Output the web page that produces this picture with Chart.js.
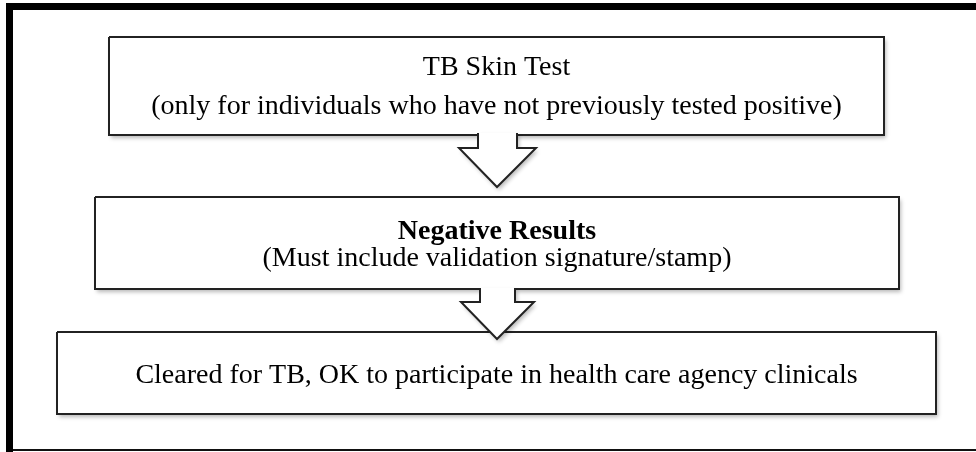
<!DOCTYPE html>
<html lang="en">
<head>
<meta charset="UTF-8">
<title>TB Skin Test Flow</title>
<script src="https://cdn.jsdelivr.net/npm/chart.js"></script>
<style>
    body { margin: 0; padding: 0; background: #fff; }
    #flow { display: block; }
</style>
</head>
<body>
<canvas id="flow" width="976" height="452"></canvas>
<script>
// steps of the flow, in page units (x 0..976, y 0..452 from top)
const stepLabels = [
    ['TB Skin Test', '(only for individuals who have not previously tested positive)'],
    ['Negative Results', '(Must include validation signature/stamp)'],
    ['Cleared for TB, OK to participate in health care agency clinicals']
];
const stepBold = [[false, false], [true, false], [false]];
const stepBaselines = [[75, 114], [239, 266], [383]];
// box edges: left, top, right, bottom
const stepBoxes = [
    [109, 37, 884, 135],
    [95, 197, 899, 289],
    [57, 332, 936, 414]
];
// arrows between steps: stemLeft, stemRight, stemTop, shoulder, wingLeft, wingRight, tipX, tipY
const arrows = [
    [478, 517, 133, 148, 459, 536, 497, 187],
    [480, 515, 288, 302, 461, 534, 497, 339]
];

function boxPoints(b) {
    return [
        { x: b[0], y: b[1] }, { x: b[2], y: b[1] },
        { x: b[2], y: b[3] }, { x: b[0], y: b[3] },
        { x: b[0], y: b[1] }
    ];
}

function arrowPoints(a) {
    return [
        { x: a[0], y: a[2] }, { x: a[0], y: a[3] },
        { x: a[4], y: a[3] }, { x: a[6], y: a[7] },
        { x: a[5], y: a[3] }, { x: a[1], y: a[3] },
        { x: a[1], y: a[2] }
    ];
}

const datasets = [];

// outer frame (thick left and top, thin bottom)
datasets.push({ data: [{ x: 9.5, y: 3 }, { x: 9.5, y: 452 }], borderColor: '#000', borderWidth: 7, order: 5 });
datasets.push({ data: [{ x: 6, y: 6.5 }, { x: 976, y: 6.5 }], borderColor: '#000', borderWidth: 7, order: 5 });
datasets.push({ data: [{ x: 6, y: 450 }, { x: 976, y: 450 }], borderColor: '#111', borderWidth: 2, order: 5 });

stepBoxes.forEach(b => {
    datasets.push({ data: boxPoints(b), borderColor: '#222', borderWidth: 2, shape: true, order: 3 });
});
arrows.forEach(a => {
    datasets.push({ data: arrowPoints(a), borderColor: '#222', borderWidth: 2, shape: true, order: 1 });
});

// white fill with a soft drop shadow under the shapes
const shapeFill = {
    id: 'shapeFill',
    beforeDatasetDraw(chart, args) {
        const ds = chart.data.datasets[args.index];
        if (!ds.shape) return;
        const pts = args.meta.data;
        const ctx = chart.ctx;
        ctx.save();
        ctx.beginPath();
        ctx.moveTo(pts[0].x, pts[0].y);
        for (let i = 1; i < pts.length; i++) ctx.lineTo(pts[i].x, pts[i].y);
        ctx.closePath();
        ctx.shadowColor = 'rgba(0, 0, 0, 0.28)';
        ctx.shadowBlur = 4;
        ctx.shadowOffsetX = 2;
        ctx.shadowOffsetY = 3;
        ctx.fillStyle = '#fff';
        ctx.fill();
        ctx.restore();
    }
};

const stepText = {
    id: 'stepText',
    afterDatasetsDraw(chart) {
        const ctx = chart.ctx;
        const xs = chart.scales.x, ys = chart.scales.y;
        ctx.save();
        ctx.fillStyle = '#000';
        ctx.textAlign = 'center';
        ctx.textBaseline = 'alphabetic';
        stepLabels.forEach((lines, i) => {
            const b = stepBoxes[i];
            const cx = xs.getPixelForValue((b[0] + b[2]) / 2);
            lines.forEach((t, j) => {
                ctx.font = (stepBold[i][j] ? 'bold ' : '') + '28px "Liberation Serif", "Times New Roman", serif';
                ctx.fillText(t, cx, ys.getPixelForValue(stepBaselines[i][j]));
            });
        });
        ctx.restore();
    }
};

new Chart(document.getElementById('flow'), {
    type: 'line',
    data: { datasets: datasets },
    options: {
        responsive: false,
        animation: false,
        devicePixelRatio: 1,
        layout: { padding: 0 },
        parsing: true,
        elements: {
            point: { radius: 0, hoverRadius: 0 },
            line: { tension: 0, fill: false, borderCapStyle: 'butt', borderJoinStyle: 'miter' }
        },
        datasets: { line: { clip: false } },
        scales: {
            x: { type: 'linear', min: 0, max: 976, display: false },
            y: { type: 'linear', min: 0, max: 452, reverse: true, display: false }
        },
        plugins: {
            legend: { display: false },
            tooltip: { enabled: false }
        },
        events: []
    },
    plugins: [shapeFill, stepText]
});
</script>
</body>
</html>
